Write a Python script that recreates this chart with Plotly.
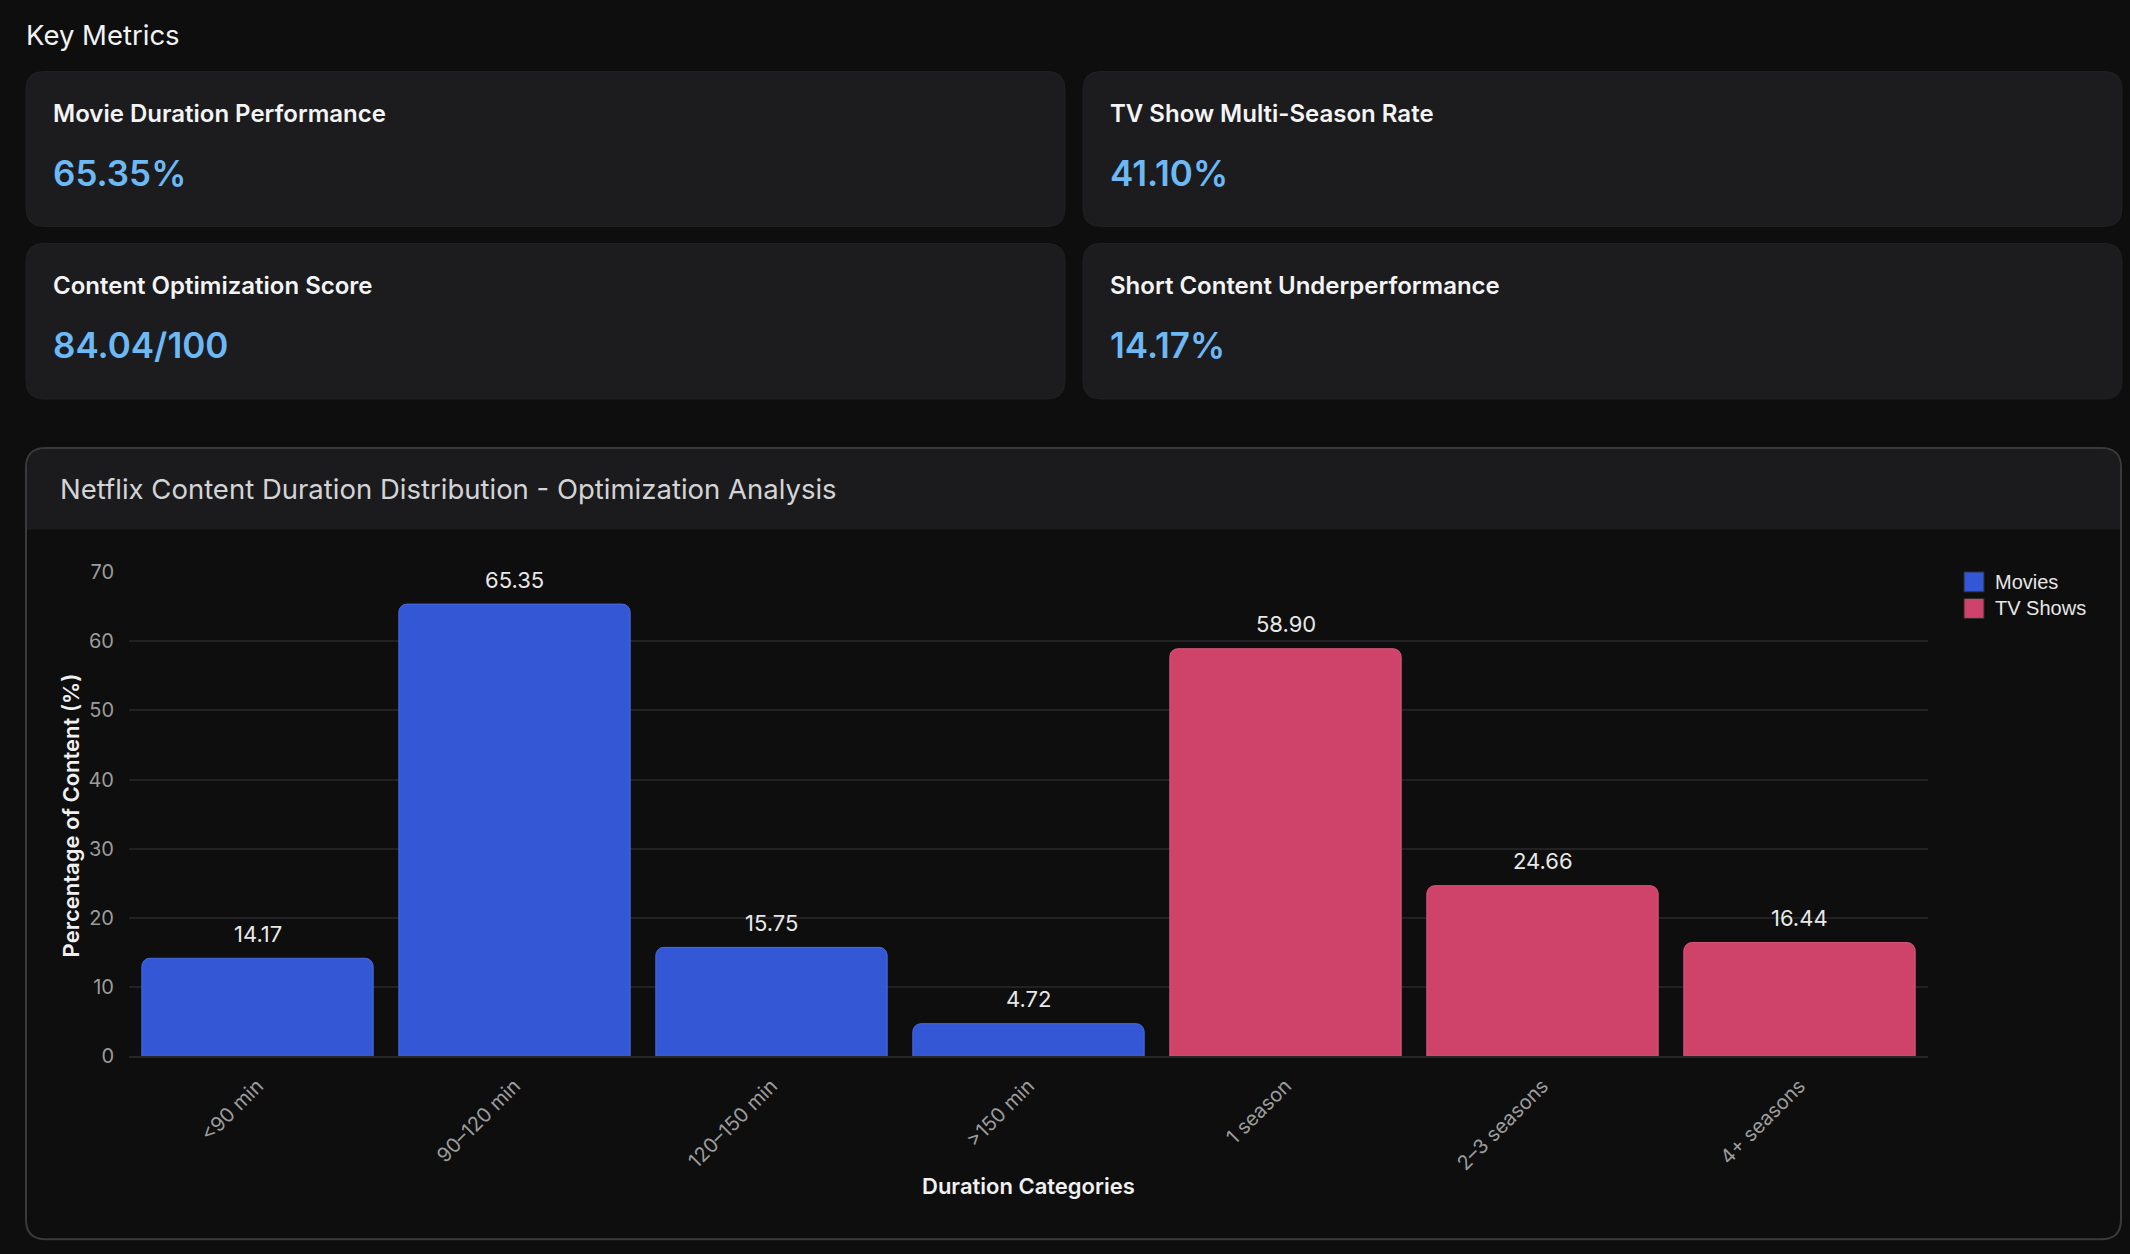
import plotly.graph_objects as go

W, H = 2130, 1254

categories = ["<90 min", "90–120 min", "120–150 min", ">150 min", "1 season", "2–3 seasons", "4+ seasons"]
movie_cats = ["<90 min", "90–120 min", "120–150 min", ">150 min"]
movie_vals = [14.17, 65.35, 15.75, 4.72]
tv_cats = ["1 season", "2–3 seasons", "4+ seasons"]
tv_vals = [58.90, 24.66, 16.44]

metric_titles = ["Movie Duration Performance", "TV Show Multi-Season Rate",
                 "Content Optimization Score", "Short Content Underperformance"]
metric_values = ["65.35%", "41.10%", "84.04/100", "14.17%"]

legend_names = ["Movies", "TV Shows"]

MOVIE_COLOR = "#3457d5"
TV_COLOR = "#cf436b"
BG = "#0e0e0f"
FONT = "Inter"

# the page is photographed with a slight vertical squeeze; compensate
V_SCALE, V_OFF = 0.981, 11.5


def px(x):
    return x / W


def py(y):
    return 1 - ((y - V_OFF) / V_SCALE) / H


def rounded_rect(x0, y0, x1, y1, r):
    X0, X1 = px(x0), px(x1)
    Y0, Y1 = py(y0), py(y1)
    rx, ry = r / W, r / H
    return (f"M{X0+rx},{Y0} L{X1-rx},{Y0} Q{X1},{Y0} {X1},{Y0-ry} "
            f"L{X1},{Y1+ry} Q{X1},{Y1} {X1-rx},{Y1} L{X0+rx},{Y1} "
            f"Q{X0},{Y1} {X0},{Y1+ry} L{X0},{Y0-ry} Q{X0},{Y0} {X0+rx},{Y0} Z")


fig = go.Figure()
fig.add_trace(go.Bar(
    x=movie_cats, y=movie_vals, name="Movies", showlegend=False,
    marker=dict(color=MOVIE_COLOR, line=dict(color="#4a6ae0", width=1)),
))
fig.add_trace(go.Bar(
    x=tv_cats, y=tv_vals, name="TV Shows", showlegend=False,
    marker=dict(color=TV_COLOR, line=dict(color="#d95a7e", width=1)),
))

shapes = []
annotations = []

# value labels above bars (positioned through the data axes)
for cats, vals in [(movie_cats, movie_vals), (tv_cats, tv_vals)]:
    for c, v in zip(cats, vals):
        annotations.append(dict(text=f"{v:.2f}", x=c, y=v, xref="x", yref="y",
                                xanchor="center", yanchor="middle", yshift=24.5,
                                showarrow=False,
                                font=dict(size=22, color="#e8e8e8", family=FONT)))

annotations.append(dict(text="Key Metrics", x=px(24), y=py(35), xref="paper", yref="paper",
                        xanchor="left", yanchor="middle", showarrow=False,
                        font=dict(size=27.5, color="#f2f2f2", family=FONT)))

card_x = [(26, 1065), (1083, 2122)]
card_y = [(71, 226), (243, 398.5)]
for i, (t, v) in enumerate(zip(metric_titles, metric_values)):
    r, c = divmod(i, 2)
    x0, x1 = card_x[c]
    y0, y1 = card_y[r]
    shapes.append(dict(type="path", path=rounded_rect(x0, y0, x1, y1, 18),
                       xref="paper", yref="paper", fillcolor="#1c1c1e",
                       line=dict(color="#212123", width=1), layer="below"))
    annotations.append(dict(text=t, x=px(x0 + 25), y=py(y0 + 42), xref="paper", yref="paper",
                            xanchor="left", yanchor="middle", showarrow=False,
                            font=dict(size=24, color="#f4f4f4", family=FONT, weight=600)))
    annotations.append(dict(text=v, x=px(x0 + 25), y=py(y0 + 102), xref="paper", yref="paper",
                            xanchor="left", yanchor="middle", showarrow=False,
                            font=dict(size=35, color="#6cb9f5", family=FONT, weight=600)))

cx0, cy0, cx1, cy1 = 26, 447.5, 2121, 1239
shapes.append(dict(type="path", path=rounded_rect(cx0, cy0, cx1, cy1, 20),
                   xref="paper", yref="paper", fillcolor=BG,
                   line=dict(color="#3a3a3c", width=2), layer="below"))
hx0, hy0, hx1, hy1 = 27, 448.5, 2120, 529
rx, ry = 19 / W, 19 / H
hp = (f"M{px(hx0)},{py(hy1)} L{px(hx0)},{py(hy0)-ry} Q{px(hx0)},{py(hy0)} {px(hx0)+rx},{py(hy0)} "
      f"L{px(hx1)-rx},{py(hy0)} Q{px(hx1)},{py(hy0)} {px(hx1)},{py(hy0)-ry} L{px(hx1)},{py(hy1)} Z")
shapes.append(dict(type="path", path=hp, xref="paper", yref="paper",
                   fillcolor="#1b1b1d", line=dict(width=0), layer="below"))
annotations.append(dict(text="Netflix Content Duration Distribution - Optimization Analysis",
                        x=px(58), y=py(489), xref="paper", yref="paper",
                        xanchor="left", yanchor="middle", showarrow=False,
                        font=dict(size=27.5, color="#d4d4d6", family=FONT)))

annotations.append(dict(text="Percentage of Content (%)", x=px(71), y=py(815),
                        xref="paper", yref="paper", textangle=-90, showarrow=False,
                        xanchor="center", yanchor="middle",
                        font=dict(size=22, color="#f0f0f0", family=FONT, weight=600)))
annotations.append(dict(text="Duration Categories", x=px(1028), y=py(1186),
                        xref="paper", yref="paper", showarrow=False,
                        xanchor="center", yanchor="middle",
                        font=dict(size=22, color="#f0f0f0", family=FONT, weight=600)))

# custom legend (large square swatches)
for k, (name, col) in enumerate(zip(legend_names, [MOVIE_COLOR, TV_COLOR])):
    top = 571.5 + k * 26.5
    shapes.append(dict(type="rect", xref="paper", yref="paper",
                       x0=px(1964), x1=px(1984), y0=py(top), y1=py(top + 20),
                       fillcolor=col, line=dict(color="#2a2a2c", width=1)))
    annotations.append(dict(text=name, x=px(1993), y=py(top + 10), xref="paper", yref="paper",
                            xanchor="left", yanchor="middle", showarrow=False,
                            font=dict(size=20, color="#e6e6e6", family="Liberation Sans")))

plot_l, plot_r, plot_t, plot_b = 129, 1928, 571.5, 1056

fig.update_layout(
    width=W, height=H,
    margin=dict(l=0, r=0, t=0, b=0),
    paper_bgcolor=BG, plot_bgcolor=BG,
    barmode="overlay", bargap=0.1, barcornerradius=8,
    shapes=shapes, annotations=annotations,
    font=dict(family=FONT, color="#9c9c9c"),
    showlegend=False,
    xaxis=dict(domain=[px(plot_l), px(plot_r)], categoryorder="array", categoryarray=categories,
               tickangle=-45, tickfont=dict(size=20, color="#9c9c9c", family=FONT),
               showgrid=False, showline=True, linecolor="#262628", linewidth=2,
               ticks="", ticklabelstandoff=8, anchor="y"),
    yaxis=dict(domain=[py(plot_b), py(plot_t)], range=[0, 70], dtick=10,
               tickfont=dict(size=20, color="#9c9c9c", family=FONT),
               showgrid=True, gridcolor="#222224", gridwidth=1.5, zeroline=False,
               ticks="", ticklabelstandoff=14, anchor="x"),
)

fig.write_html(
    "out.html",
    config={"displayModeBar": False},
    post_script=(
        "document.documentElement.style.margin='0';"
        "document.body.style.margin='0';document.body.style.padding='0';"
        "document.body.style.background='#0e0e0f';"
        "document.documentElement.style.background='#0e0e0f';"
        "document.documentElement.style.overflow='hidden';"
        "var gd=document.getElementById('{plot_id}');"
        "gd.style.position='fixed';gd.style.top='0px';gd.style.left='0px';"
    ),
)
